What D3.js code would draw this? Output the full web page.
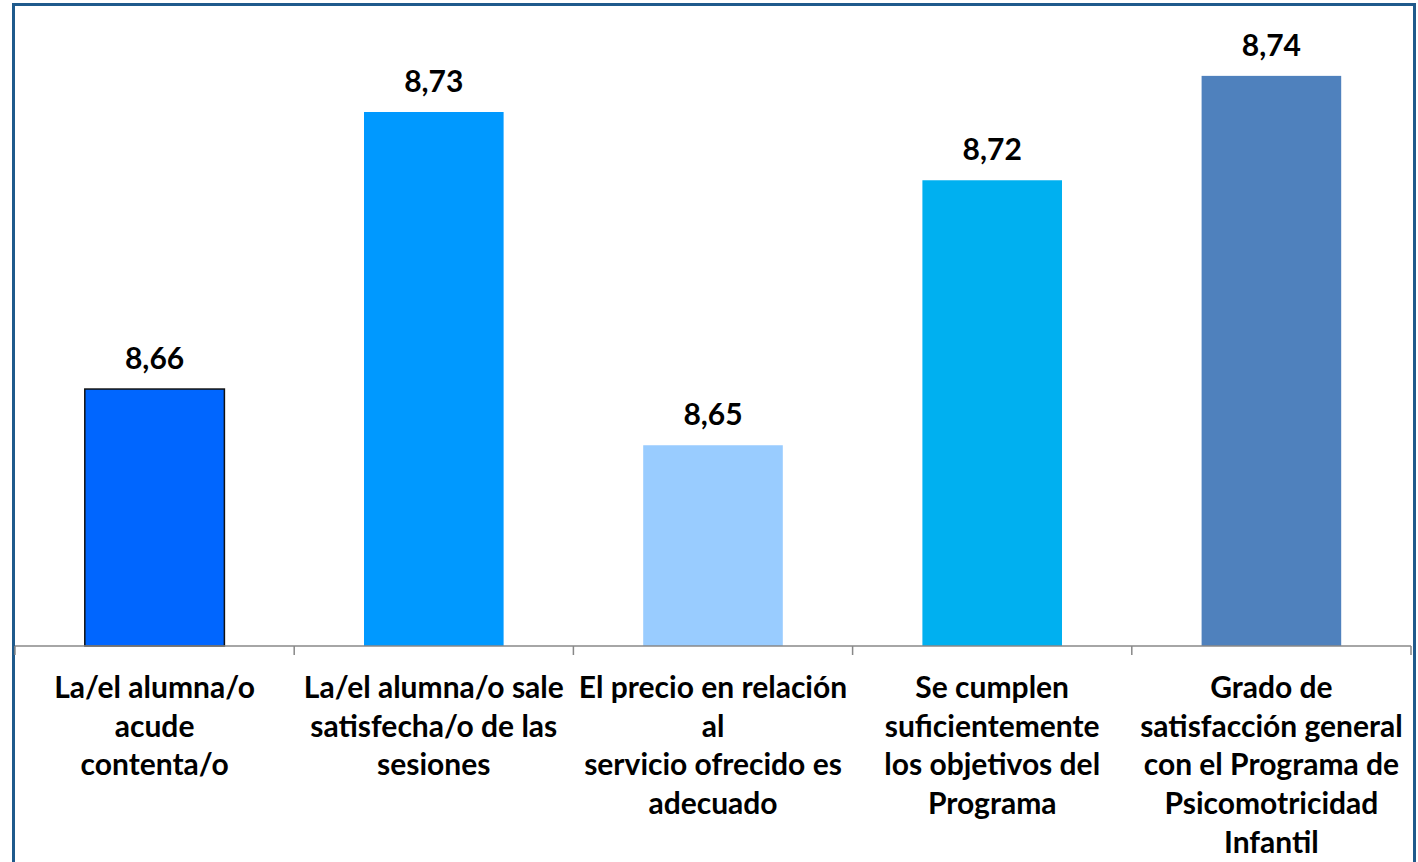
<!DOCTYPE html>
<html>
<head>
<meta charset="utf-8">
<script src="https://cdn.jsdelivr.net/npm/d3@7"></script>
<style>
  html, body { margin: 0; padding: 0; background: #fff; }
  svg { display: block; font-family: Lato, "Open Sans", sans-serif; }
</style>
</head>
<body>
<div id="chart"></div>
<script>
// categories (label lines) and values
const categories = [
  ["La/el alumna/o", "acude", "contenta/o"],
  ["La/el alumna/o sale", "satisfecha/o de las", "sesiones"],
  ["El precio en relación", "al", "servicio ofrecido es", "adecuado"],
  ["Se cumplen", "suficientemente", "los objetivos del", "Programa"],
  ["Grado de", "satisfacción general", "con el Programa de", "Psicomotricidad", "Infantil"]
];
const values = [8.664, 8.733, 8.650, 8.716, 8.742];
const colors = ["#0066FF", "#0099FF", "#99CCFF", "#00B0F0", "#4F81BD"];

const width = 1418, height = 862;
const baseY = 646, left = 15, right = 1411;

const svg = d3.select("#chart").append("svg")
  .attr("width", width)
  .attr("height", height)
  .attr("viewBox", [0, 0, width, height]);

// frame
svg.append("rect")
  .attr("x", 13.5).attr("y", 4.5)
  .attr("width", 1401).attr("height", 880)
  .attr("fill", "none")
  .attr("stroke", "#1F5A8C")
  .attr("stroke-width", 3);

const x = d3.scaleBand()
  .domain(d3.range(values.length))
  .range([left, right])
  .paddingInner(0.5)
  .paddingOuter(0.25);

const y = d3.scaleLinear()
  .domain([8.6, 8.76])
  .range([baseY, baseY - 0.16 * 4015]);

svg.append("g")
  .selectAll("rect")
  .data(values)
  .join("rect")
  .attr("x", (d, i) => x(i))
  .attr("y", d => y(d))
  .attr("width", x.bandwidth())
  .attr("height", d => y(8.6) - y(d))
  .attr("fill", (d, i) => colors[i])
  .attr("stroke", (d, i) => i === 0 ? "#111" : "none")
  .attr("stroke-width", 1.5);

svg.append("g")
  .selectAll("text")
  .data(values)
  .join("text")
  .attr("x", (d, i) => x(i) + x.bandwidth() / 2)
  .attr("y", d => y(d) - 20)
  .attr("text-anchor", "middle")
  .attr("font-size", 30)
  .attr("font-weight", "bold")
  .attr("fill", "#000")
  .text(d => d3.format(".2f")(d).replace(".", ","));

// category axis with ticks between the bands
const step = (right - left) / values.length;
const axis = svg.append("g");
axis.append("line")
  .attr("x1", left).attr("x2", right)
  .attr("y1", baseY).attr("y2", baseY)
  .attr("stroke", "#888").attr("stroke-width", 1.5);
axis.selectAll(".tick")
  .data(d3.range(values.length + 1))
  .join("line")
  .attr("x1", i => left + i * step).attr("x2", i => left + i * step)
  .attr("y1", baseY).attr("y2", baseY + 9)
  .attr("stroke", "#888").attr("stroke-width", 1.5);

const lab = svg.append("g")
  .selectAll("text")
  .data(categories)
  .join("text")
  .attr("x", (d, i) => x(i) + x.bandwidth() / 2)
  .attr("y", 698)
  .attr("text-anchor", "middle")
  .attr("font-size", 30)
  .attr("font-weight", "bold")
  .attr("fill", "#000");
lab.selectAll("tspan")
  .data(d => d)
  .join("tspan")
  .attr("x", function () { return this.parentNode.getAttribute("x"); })
  .attr("dy", (d, j) => j === 0 ? 0 : 38.7)
  .text(d => d);
</script>
</body>
</html>
